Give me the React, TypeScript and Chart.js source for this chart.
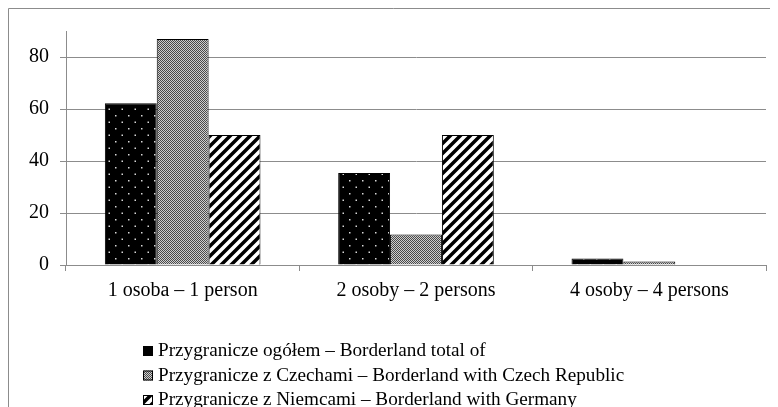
import React, { useEffect, useRef } from "react";
import { Chart, registerables } from "chart.js";

Chart.register(...registerables);

const categories = ["1 osoba – 1 person", "2 osoby – 2 persons", "4 osoby – 4 persons"];
const seriesNames = [
  "Przygranicze ogółem – Borderland total of",
  "Przygranicze z Czechami – Borderland with Czech Republic",
  "Przygranicze z Niemcami – Borderland with Germany",
];
const totalValues = [62.2, 35.4, 2.5];
const czechValues = [86.9, 11.7, 1.3];
const germanyValues = [50, 50, 0];
const yTicks = [0, 20, 40, 60, 80];

const FONT = '"Liberation Serif", "Times New Roman", serif';

function makeDots(): CanvasPattern | string {
  const c = document.createElement("canvas");
  c.width = 13;
  c.height = 13;
  const g = c.getContext("2d")!;
  g.fillStyle = "#000";
  g.fillRect(0, 0, 13, 13);
  g.fillStyle = "#d8d8d8";
  g.fillRect(3, 3, 1.5, 1.5);
  g.fillRect(9.5, 9.5, 1.5, 1.5);
  return g.createPattern(c, "repeat") || "#000";
}

function makeGray(): CanvasPattern | string {
  const c = document.createElement("canvas");
  c.width = 2;
  c.height = 2;
  const g = c.getContext("2d")!;
  g.fillStyle = "#cfcfcf";
  g.fillRect(0, 0, 2, 2);
  g.fillStyle = "#4a4a4a";
  g.fillRect(0, 0, 1, 1);
  g.fillRect(1, 1, 1, 1);
  return g.createPattern(c, "repeat") || "#888";
}

function makeHatch(): CanvasPattern | string {
  const s = 10;
  const c = document.createElement("canvas");
  c.width = s;
  c.height = s;
  const g = c.getContext("2d")!;
  g.fillStyle = "#fff";
  g.fillRect(0, 0, s, s);
  g.strokeStyle = "#000";
  g.lineWidth = 3.5;
  g.beginPath();
  g.moveTo(-s / 2, s / 2);
  g.lineTo(s / 2, -s / 2);
  g.moveTo(0, s);
  g.lineTo(s, 0);
  g.moveTo(s / 2, s * 1.5);
  g.lineTo(s * 1.5, s / 2);
  g.stroke();
  return g.createPattern(c, "repeat") || "#fff";
}

const framePlugin = {
  id: "frame",
  beforeDraw(chart: any) {
    const ctx = chart.ctx;
    ctx.save();
    ctx.fillStyle = "#fff";
    ctx.fillRect(0, 0, chart.width, chart.height);
    ctx.strokeStyle = "#8c8c8c";
    ctx.lineWidth = 1;
    ctx.beginPath();
    ctx.moveTo(0.5, chart.height);
    ctx.lineTo(0.5, 0.5);
    ctx.lineTo(chart.width, 0.5);
    ctx.stroke();
    ctx.restore();
  },
};

const legendPlugin = {
  id: "customLegend",
  afterDraw(chart: any) {
    const ctx = chart.ctx;
    const area = chart.chartArea;
    ctx.save();
    ctx.font = `19.2px ${FONT}`;
    ctx.textBaseline = "middle";
    ctx.textAlign = "left";
    chart.data.datasets.forEach((ds: any, i: number) => {
      const y = area.bottom + 86 + i * 24.5;
      const bx = 135;
      ctx.fillStyle = ds.backgroundColor;
      ctx.fillRect(bx, y - 5, 10, 10);
      ctx.strokeStyle = "#000";
      ctx.lineWidth = 1;
      ctx.strokeRect(bx + 0.5, y - 4.5, 9, 9);
      ctx.fillStyle = "#000";
      ctx.fillText(ds.label, bx + 15, y);
    });
    ctx.restore();
  },
};

export default function App() {
  const ref = useRef<HTMLCanvasElement | null>(null);

  useEffect(() => {
    if (!ref.current) return;
    const patterns = [makeDots(), makeGray(), makeHatch()];
    const values = [totalValues, czechValues, germanyValues];
    const chart = new Chart(ref.current, {
      type: "bar",
      data: {
        labels: categories,
        datasets: seriesNames.map((name, i) => ({
          label: name,
          data: values[i],
          backgroundColor: patterns[i] as any,
          borderColor: "#000",
          borderWidth: 1,
          categoryPercentage: 0.667,
          barPercentage: 1,
        })),
      },
      options: {
        animation: false,
        responsive: true,
        maintainAspectRatio: false,
        layout: { padding: { top: 17, right: 12, left: 0, bottom: 0 } },
        plugins: {
          legend: { display: false },
          tooltip: { enabled: false },
        },
        scales: {
          x: {
            grid: {
              display: true,
              drawOnChartArea: false,
              drawTicks: true,
              tickLength: 6,
              color: "#8c8c8c",
              offset: true,
            },
            border: { display: true, color: "#8c8c8c", width: 1 },
            ticks: {
              color: "#000",
              font: { family: FONT, size: 20 },
              padding: 8,
              maxRotation: 0,
              autoSkip: false,
            },
            afterFit(scale: any) {
              scale.height = 142;
            },
          },
          y: {
            min: 0,
            max: 90,
            ticks: {
              stepSize: 20,
              color: "#000",
              font: { family: FONT, size: 20 },
              padding: 11,
            },
            afterBuildTicks(scale: any) {
              scale.ticks = yTicks.map((v) => ({ value: v }));
            },
            grid: {
              color: "#8c8c8c",
              lineWidth: 1,
              drawTicks: true,
              tickLength: 6,
            },
            border: { display: true, color: "#8c8c8c", width: 1 },
            afterFit(scale: any) {
              scale.width = 58;
            },
          },
        },
      },
      plugins: [framePlugin, legendPlugin],
    });
    return () => chart.destroy();
  }, []);

  return (
    <div style={{ position: "relative", width: 770, height: 399 }}>
      <canvas ref={ref} />
    </div>
  );
}
